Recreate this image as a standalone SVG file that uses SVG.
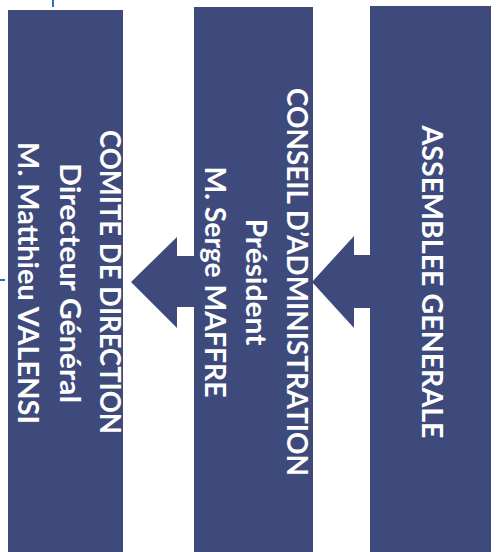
<svg xmlns="http://www.w3.org/2000/svg" width="501" height="552" viewBox="0 0 501 552">
<style>
.col{fill:#3e4a7c}
.arrow{fill:#3e4a7c}
.t{fill:#ffffff;font-family:Lato,"Open Sans","Liberation Sans",sans-serif;font-weight:700;font-size:28.5px;text-anchor:middle}
.mark{stroke:#2f6fb3;stroke-width:2;fill:none}
</style>
<rect width="501" height="552" fill="#ffffff"/>
<line class="mark" x1="53" y1="0" x2="53" y2="7"/>
<line class="mark" x1="0" y1="280" x2="5" y2="280"/>
<g id="connectors">
<polygon class="arrow" points="372,255 354,255 354,236 312,282 354,328 354,308 372,308"/>
<polygon class="arrow" points="197,256 177,256 177,237 131,282 177,328 177,307 197,307"/>
</g>
<g id="assemblee">
<rect class="col" x="370" y="6" width="121" height="546"/>
<text class="t" transform="translate(422,282) rotate(90)" textLength="313" lengthAdjust="spacingAndGlyphs">ASSEMBLEE GENERALE</text>
</g>
<g id="conseil">
<rect class="col" x="194" y="7" width="119" height="545"/>
<text class="t" transform="translate(287,282) rotate(90)" textLength="388" lengthAdjust="spacingAndGlyphs">CONSEIL D’ADMINISTRATION</text>
<text class="t" transform="translate(246,282) rotate(90)" textLength="127" lengthAdjust="spacingAndGlyphs">Président</text>
<text class="t" transform="translate(205,282) rotate(90)" textLength="231" lengthAdjust="spacingAndGlyphs">M. Serge MAFFRE</text>
</g>
<g id="comite">
<rect class="col" x="8" y="10" width="115" height="542"/>
<text class="t" transform="translate(100,282) rotate(90)" textLength="304" lengthAdjust="spacingAndGlyphs">COMITE DE DIRECTION</text>
<text class="t" transform="translate(60,283) rotate(90)" textLength="240" lengthAdjust="spacingAndGlyphs">Directeur Général</text>
<text class="t" transform="translate(18,283) rotate(90)" textLength="282" lengthAdjust="spacingAndGlyphs">M. Matthieu VALENSI</text>
</g>
</svg>
